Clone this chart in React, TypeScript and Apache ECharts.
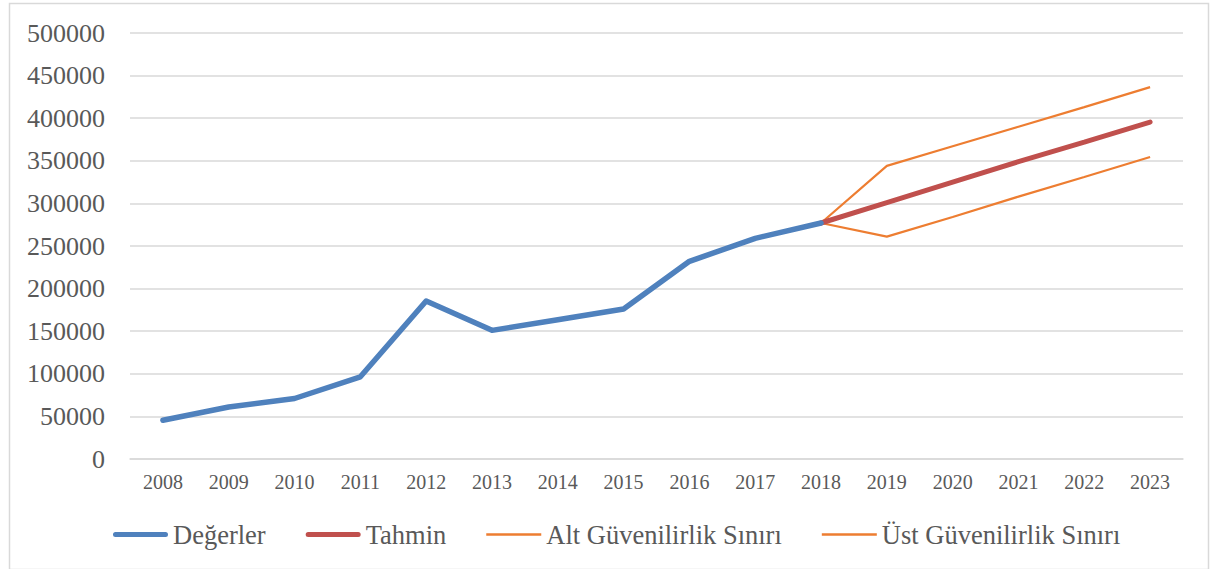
import React, { useEffect, useRef } from "react";
import * as echarts from "echarts";

const years = ["2008","2009","2010","2011","2012","2013","2014","2015","2016","2017","2018","2019","2020","2021","2022","2023"];
const degerler = [45500, 61000, 71000, 96500, 185500, 151000, 163500, 176000, 232000, 259000, 277000, null, null, null, null, null];
const tahmin = [null, null, null, null, null, null, null, null, null, null, 277000, 301000, 325000, 349000, 372000, 395500];
const altSinir = [null, null, null, null, null, null, null, null, null, null, 277000, 261000, 284000, 308000, 331000, 354500];
const ustSinir = [null, null, null, null, null, null, null, null, null, null, 277000, 344000, 367000, 390000, 413000, 436500];
const yTicks = { min: 0, max: 500000, interval: 50000 };

const FONT = "'Liberation Serif', 'Times New Roman', serif";
const TEXT = "#595959";
const BLUE = "#4f81bd";
const RED = "#c0504d";
const ORANGE = "#ed7d31";

export default function App() {
  const ref = useRef<HTMLDivElement>(null);
  useEffect(() => {
    if (!ref.current) return;
    const chart = echarts.init(ref.current, null, { renderer: "svg" });
    chart.setOption({
      animation: false,
      backgroundColor: "#ffffff",
      graphic: [
        {
          type: "rect",
          shape: { x: 9.5, y: 3.5, width: 1199, height: 566 },
          style: { fill: "none", stroke: "#d9d9d9", lineWidth: 1.5 },
          silent: true,
        },
      ],
      grid: { left: 130, right: 29, top: 33, bottom: 110, containLabel: false },
      xAxis: {
        type: "category",
        data: years,
        boundaryGap: true,
        axisLine: { show: true, lineStyle: { color: "#d9d9d9", width: 1.5 } },
        axisTick: { show: false },
        axisLabel: { color: TEXT, fontFamily: FONT, fontSize: 20, margin: 13 },
      },
      yAxis: {
        type: "value",
        min: yTicks.min,
        max: yTicks.max,
        interval: yTicks.interval,
        axisLine: { show: false },
        axisTick: { show: false },
        splitLine: { lineStyle: { color: "#d9d9d9", width: 1.5 } },
        axisLabel: {
          color: TEXT,
          fontFamily: FONT,
          fontSize: 26,
          margin: 25,
          formatter: (v: number) => String(v),
        },
      },
      legend: {
        left: 108,
        top: 516,
        itemWidth: 55,
        itemHeight: 14,
        itemGap: 40,
        textStyle: { color: TEXT, fontFamily: FONT, fontSize: 26.5 },
        data: [
          { name: "Değerler", icon: "path://M2.5,0h50a2.5,2.5 0 0 1 0,5h-50a2.5,2.5 0 0 1 0,-5z", itemStyle: { color: BLUE } },
          { name: "Tahmin", icon: "path://M2.5,0h50a2.5,2.5 0 0 1 0,5h-50a2.5,2.5 0 0 1 0,-5z", itemStyle: { color: RED } },
          { name: "Alt Güvenilirlik Sınırı", icon: "path://M0,0h55v2.5h-55z", itemStyle: { color: ORANGE } },
          { name: "Üst Güvenilirlik Sınırı", icon: "path://M0,0h55v2.5h-55z", itemStyle: { color: ORANGE } },
        ],
      },
      series: [
        {
          name: "Alt Güvenilirlik Sınırı",
          type: "line",
          data: altSinir,
          showSymbol: false,
          symbol: "none",
          lineStyle: { color: ORANGE, width: 2.2 },
          itemStyle: { color: ORANGE },
          z: 2,
        },
        {
          name: "Üst Güvenilirlik Sınırı",
          type: "line",
          data: ustSinir,
          showSymbol: false,
          symbol: "none",
          lineStyle: { color: ORANGE, width: 2.2 },
          itemStyle: { color: ORANGE },
          z: 2,
        },
        {
          name: "Tahmin",
          type: "line",
          data: tahmin,
          showSymbol: false,
          symbol: "none",
          lineStyle: { color: RED, width: 5, cap: "round" },
          itemStyle: { color: RED },
          z: 3,
        },
        {
          name: "Değerler",
          type: "line",
          data: degerler,
          showSymbol: false,
          symbol: "none",
          lineStyle: { color: BLUE, width: 5.5, cap: "round", join: "round" },
          itemStyle: { color: BLUE },
          z: 4,
        },
      ],
    });
    return () => chart.dispose();
  }, []);
  return (
    <div
      ref={ref}
      style={{ position: "absolute", left: 0, top: 0, width: 1212, height: 569 }}
    />
  );
}
